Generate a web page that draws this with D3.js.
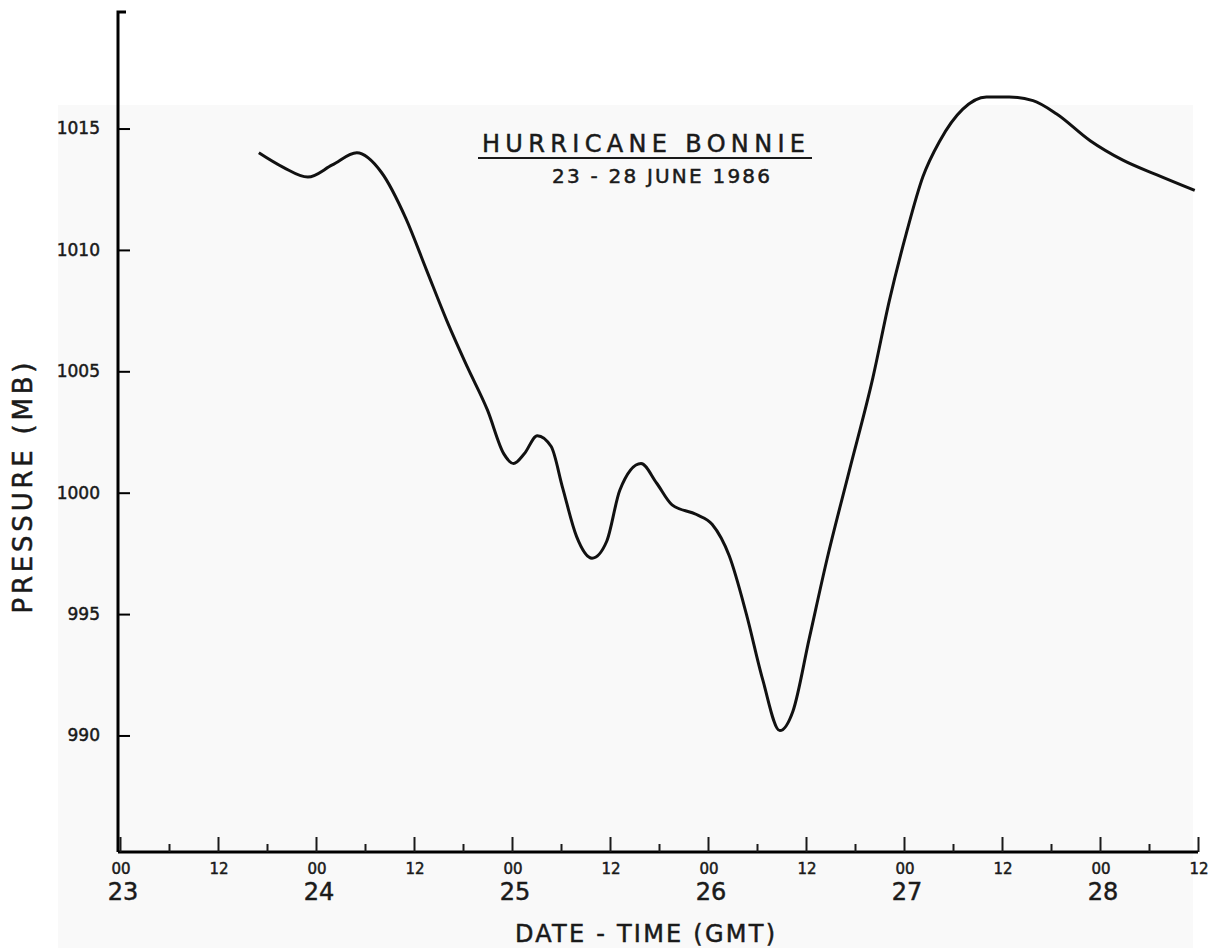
<!DOCTYPE html>
<html lang='en'>
  <head>
    <meta charset='utf-8'>
    <style>
      body { margin: 0; background: #fff; }
      svg text { font-family: 'DejaVu Sans', sans-serif; fill: #1a1a1a; stroke: #1a1a1a; stroke-width: 0.5px; }
    </style>
  </head>
  <body>
    <div id='chart'></div>

    <script src='https://cdn.jsdelivr.net/npm/d3@7'></script>
    <script>
      // hours after 00 GMT 23 June 1986
      var hours = [17, 20, 23, 26, 29, 32, 35, 37.5, 40, 42.5, 45, 47, 48.2, 49.5, 51.1, 52.8,
                   54.2, 55.9, 57.8, 59.6, 61.2, 63.8, 65.7, 67.6, 70.6, 72.5, 74.6, 76.7, 78.7,
                   80.8, 82.4, 84.4, 86.6, 89.3, 92.2, 94.2, 96.3, 98.3, 100.4, 103.2, 106.1,
                   108.9, 111.8, 114.7, 118.8, 122.8, 126.9, 131.6];
      // central pressure (mb)
      var pressure = [1014.0, 1013.4, 1013.0, 1013.5, 1014.0, 1013.2, 1011.3, 1009.2, 1007.1,
                      1005.2, 1003.4, 1001.6, 1001.2, 1001.6, 1002.35, 1001.9, 1000.2, 998.2,
                      997.3, 998.0, 1000.1, 1001.2, 1000.4, 999.5, 999.1, 998.7, 997.4, 995.0,
                      992.3, 990.2, 991.0, 994.0, 997.3, 1000.9, 1004.75, 1007.9, 1010.7, 1013.0,
                      1014.5, 1015.8, 1016.3, 1016.3, 1016.15, 1015.6, 1014.5, 1013.7, 1013.1,
                      1012.45];

      var pressureTicks = [990, 995, 1000, 1005, 1010, 1015];
      var hourTicks = [0, 12, 24, 36, 48, 60, 72, 84, 96, 108, 120, 132];
      var minorTicks = [6, 18, 30, 42, 54, 66, 78, 90, 102, 114, 126];
      var dayLabels = [23, 24, 25, 26, 27, 28];

      var width = 1209, height = 948;

      var svg = d3.select('#chart').append('svg')
          .attr('width', width)
          .attr('height', height);

      // faint scanned-paper panel
      svg.append('rect')
          .attr('x', 58).attr('y', 105)
          .attr('width', 1135).attr('height', 843)
          .attr('fill', '#f9f9f9');

      var x = d3.scaleLinear().domain([0, 132]).range([120, 1198]);
      var y = d3.scaleLinear().domain([985.2, 1019.8]).range([852, 12]);

      // x axis: major 12 h ticks, minor 6 h ticks, pointing up
      var xMajor = d3.axisBottom(x).tickValues(hourTicks).tickSize(-15).tickFormat('');
      var xMinor = d3.axisBottom(x).tickValues(minorTicks).tickSize(-8).tickFormat('');

      var gx = svg.append('g').attr('transform', 'translate(0,852)').call(xMajor);
      svg.append('g').attr('transform', 'translate(0,852)').call(xMinor)
          .select('.domain').remove();
      gx.select('.domain').attr('d', 'M' + (x(0) - 2) + ',0H' + x(132))
          .attr('stroke-width', 3);
      svg.selectAll('.tick line').attr('stroke', '#1a1a1a').attr('stroke-width', 2);

      svg.append('g').selectAll('text')
          .data(hourTicks)
        .enter().append('text')
          .attr('x', function (d) { return x(d) + 1; })
          .attr('y', 874)
          .attr('text-anchor', 'middle')
          .attr('font-size', 15)
          .text(function (d) { return d % 24 === 0 ? '00' : '12'; });

      svg.append('g').selectAll('text')
          .data(dayLabels)
        .enter().append('text')
          .attr('x', function (d) { return x((d - 23) * 24) + 3; })
          .attr('y', 900)
          .attr('text-anchor', 'middle')
          .attr('font-size', 24)
          .text(function (d) { return d; });

      // y axis, ticks pointing right
      var gy = svg.append('g').attr('transform', 'translate(118,0)')
          .call(d3.axisLeft(y).tickValues(pressureTicks).tickSize(-12).tickPadding(18)
                .tickFormat(d3.format('d')));
      gy.select('.domain').attr('d', 'M0,' + y(985.2) + 'V' + y(1019.8) + 'H8')
          .attr('stroke-width', 3).attr('fill', 'none');
      gy.selectAll('.tick line').attr('stroke-width', 2);
      gy.selectAll('.tick text').attr('font-size', 17)
          .attr('font-family', 'DejaVu Sans, sans-serif');

      // pressure trace
      var points = hours.map(function (h, i) { return [h, pressure[i]]; });
      var line = d3.line()
          .x(function (d) { return x(d[0]); })
          .y(function (d) { return y(d[1]); })
          .curve(d3.curveMonotoneX);

      svg.append('path')
          .datum(points)
          .attr('d', line)
          .attr('fill', 'none')
          .attr('stroke', '#111')
          .attr('stroke-width', 3)
          .attr('stroke-linejoin', 'round');

      // titles
      svg.append('text')
          .attr('x', 482).attr('y', 152)
          .attr('font-size', 24)
          .attr('textLength', 323)
          .attr('lengthAdjust', 'spacing')
          .text('HURRICANE  BONNIE');
      svg.append('line')
          .attr('x1', 478).attr('x2', 812)
          .attr('y1', 158).attr('y2', 158)
          .attr('stroke', '#1a1a1a').attr('stroke-width', 2);
      svg.append('text')
          .attr('x', 552).attr('y', 183)
          .attr('font-size', 20)
          .attr('textLength', 218)
          .attr('lengthAdjust', 'spacing')
          .text('23 - 28  JUNE  1986');

      svg.append('text')
          .attr('transform', 'translate(32,488) rotate(-90)')
          .attr('text-anchor', 'middle')
          .attr('font-size', 26)
          .attr('textLength', 251)
          .attr('lengthAdjust', 'spacing')
          .text('PRESSURE  (MB)');

      svg.append('text')
          .attr('x', 515).attr('y', 942)
          .attr('font-size', 24)
          .attr('textLength', 260)
          .attr('lengthAdjust', 'spacing')
          .text('DATE - TIME  (GMT)');
    </script>
  </body>
</html>
